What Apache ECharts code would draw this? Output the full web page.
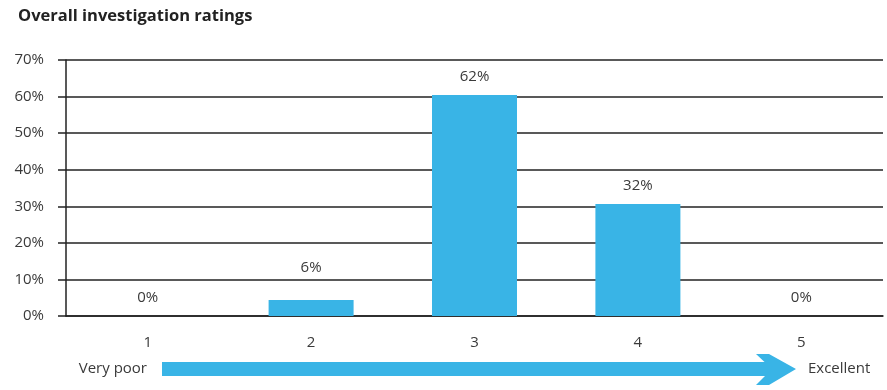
<!DOCTYPE html>
<html>
<head>
<meta charset="utf-8">
<script src="https://cdn.jsdelivr.net/npm/echarts@6/dist/echarts.min.js"></script>
<style>
html,body{margin:0;padding:0;background:#fff;}
#chart{width:887px;height:390px;}
</style>
</head>
<body>
<div id="chart"></div>
<script>
// Data
const categories = ['1', '2', '3', '4', '5'];
const barValues = [0, 4.4, 60.4, 30.6, 0];          // bar heights as drawn (%)
const barLabels = ['0%', '6%', '62%', '32%', '0%'];  // labels printed above bars
const yTicks = [0, 10, 20, 30, 40, 50, 60, 70];
const chartTitle = 'Overall investigation ratings';
const scaleLow = 'Very poor';
const scaleHigh = 'Excellent';

const FONT = '"Open Sans", "Noto Sans", sans-serif';
const BLUE = '#39b4e6';
const TEXT = '#3a3a3a';

const seriesData = barValues.map((v, i) => (
  i === 1 ? { value: v, label: { distance: 25 } } : v
));

const chart = echarts.init(document.getElementById('chart'));
chart.setOption({
  animation: false,
  backgroundColor: '#fff',
  title: {
    text: chartTitle,
    left: 13, top: 3,
    textStyle: { fontFamily: FONT, fontSize: 16.5, fontWeight: 'bold', color: '#222' }
  },
  grid: { left: 66, right: 4, top: 60, bottom: 74, containLabel: false },
  xAxis: {
    type: 'category',
    data: categories,
    axisLine: { show: true, lineStyle: { color: '#222', width: 1.5 } },
    axisTick: { show: false },
    axisLabel: { margin: 19, fontFamily: FONT, fontSize: 15, color: TEXT }
  },
  yAxis: {
    type: 'value',
    min: yTicks[0], max: yTicks[yTicks.length - 1], interval: 10,
    axisLine: { show: true, lineStyle: { color: '#222', width: 1.5 } },
    axisTick: { show: true, length: 8, lineStyle: { color: '#222', width: 1.5 } },
    axisLabel: { margin: 22, fontFamily: FONT, fontSize: 15, color: TEXT, formatter: v => v + '%' },
    splitLine: { show: true, lineStyle: { color: '#222', width: 1.5 } }
  },
  series: [{
    type: 'bar',
    data: seriesData,
    barWidth: 85,
    itemStyle: { color: BLUE },
    label: {
      show: true, position: 'top', distance: 11,
      fontFamily: FONT, fontSize: 15, color: TEXT,
      formatter: p => barLabels[p.dataIndex]
    }
  }],
  graphic: [
    { type: 'rect', shape: { x: 162, y: 362, width: 612, height: 14 }, style: { fill: BLUE } },
    { type: 'polygon', shape: { points: [[756, 354], [769, 354], [796, 369], [769, 385], [756, 385], [772, 369]] }, style: { fill: BLUE } },
    { type: 'text', x: 147, y: 369, style: { text: scaleLow, align: 'right', verticalAlign: 'middle', font: '15px ' + FONT, fill: TEXT } },
    { type: 'text', x: 808, y: 369, style: { text: scaleHigh, align: 'left', verticalAlign: 'middle', font: '15px ' + FONT, fill: TEXT } }
  ]
});
</script>
</body>
</html>
